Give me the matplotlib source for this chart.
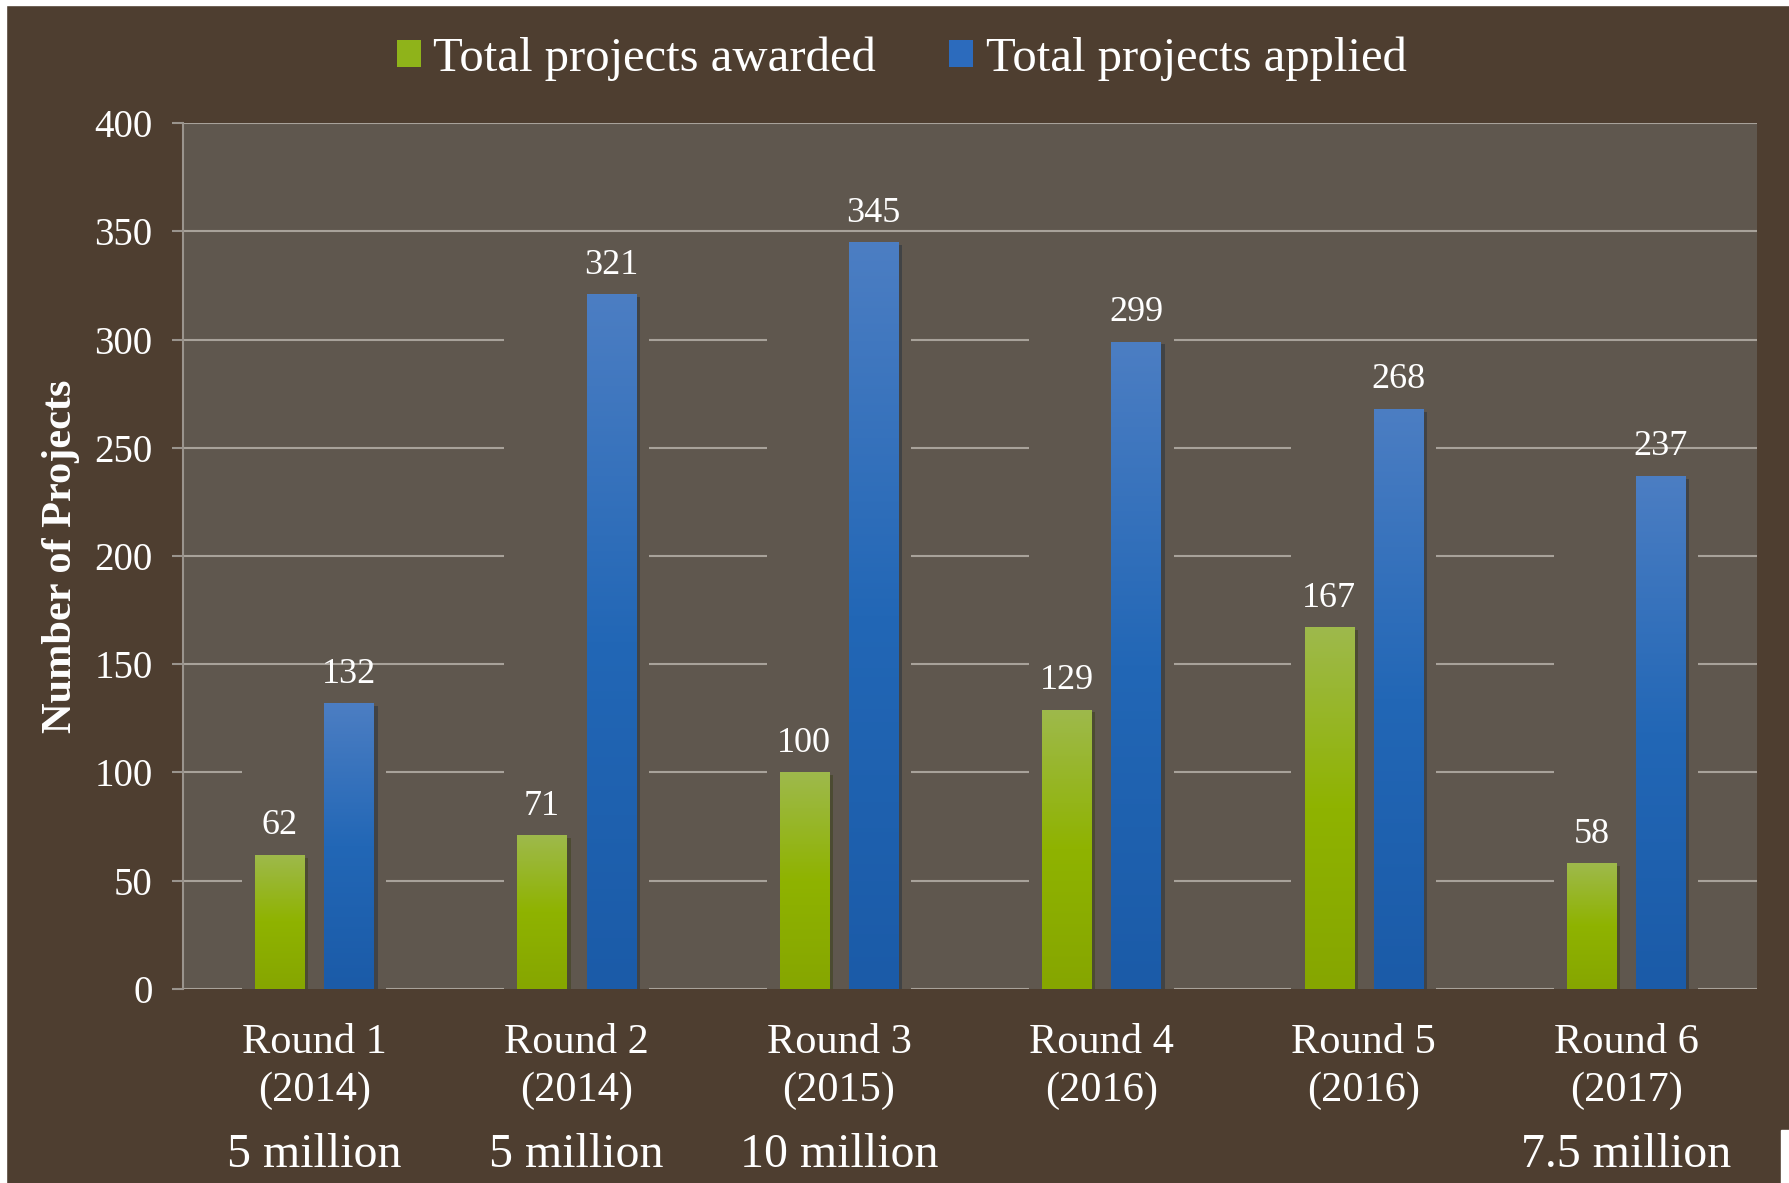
import numpy as np
import matplotlib
matplotlib.use("Agg")
import matplotlib.pyplot as plt
import matplotlib.patheffects as pe
from matplotlib.colors import LinearSegmentedColormap
from matplotlib.patches import Rectangle
from matplotlib.transforms import blended_transform_factory

# data
rounds = ["Round 1\n(2014)", "Round 2\n(2014)", "Round 3\n(2015)",
          "Round 4\n(2016)", "Round 5\n(2016)", "Round 6\n(2017)"]
budgets = ["5 million", "5 million", "10 million", "", "", "7.5 million"]
awarded = [62, 71, 100, 129, 167, 58]
applied = [132, 321, 345, 299, 268, 237]
series_names = ["Total projects awarded", "Total projects applied"]
yticks = [0, 50, 100, 150, 200, 250, 300, 350, 400]

BG = "#4e3e30"
PLOT_BG = "#5f574e"
GRID = "#a8a29a"

plt.rcParams['font.family'] = ['Liberation Serif', 'DejaVu Serif']

fig = plt.figure(figsize=(17.89, 11.83), dpi=100, facecolor=BG)
ax = fig.add_axes([0.1023, 0.164, 0.880, 0.732])
ax.set_facecolor(PLOT_BG)

# thin white strips at the edges of the original image
fig.patches.append(Rectangle((0, 0.9955), 1, 0.0045, transform=fig.transFigure, color="white", zorder=0))
fig.patches.append(Rectangle((0, 0), 0.0034, 1, transform=fig.transFigure, color="white", zorder=0))
fig.patches.append(Rectangle((0.9955, 0), 0.0045, 0.045, transform=fig.transFigure, color="white", zorder=0))

x = np.arange(len(rounds))
width = 0.187
off = 0.132

green_cmap = LinearSegmentedColormap.from_list("g", [(0, "#86a600"), (0.5, "#8fb300"), (1, "#9eb94c")])
blue_cmap = LinearSegmentedColormap.from_list("b", [(0, "#1b5ba8"), (0.5, "#2267b6"), (1, "#4c7ec3")])

# hide grid lines around each group (soft shadow look of the original)
for xi, a, b in zip(x, awarded, applied):
    ax.add_patch(Rectangle((xi - off - width / 2 - 0.05, 0), 2 * off + width + 0.1,
                           max(a, b) + 4, facecolor=PLOT_BG, edgecolor="none", zorder=1.5))

shadow = [pe.SimplePatchShadow(offset=(3, -2), alpha=0.35), pe.Normal()]
bars_g = ax.bar(x - off, awarded, width, color="#8fb300", zorder=2, path_effects=shadow)
bars_b = ax.bar(x + off, applied, width, color="#2267b6", zorder=2, path_effects=shadow)

grad = np.linspace(0, 1, 256).reshape(-1, 1)
for bars, cmap in [(bars_g, green_cmap), (bars_b, blue_cmap)]:
    for bar in bars:
        bx, by = bar.get_x(), bar.get_y()
        bw, bh = bar.get_width(), bar.get_height()
        im = ax.imshow(grad, cmap=cmap, origin="lower", aspect="auto",
                       extent=[bx, bx + bw, by, by + bh], zorder=2.5)
        im.set_clip_path(bar)
        ax.annotate(str(int(bh)), (bx + bw / 2, bh), xytext=(0, 9),
                    textcoords="offset points", ha="center", va="bottom",
                    fontsize=26, color="white")

ax.set_xlim(-0.5, len(rounds) - 0.5)
ax.set_ylim(0, 400)
ax.set_yticks(yticks)
ax.yaxis.grid(True, color=GRID, linewidth=1.5, zorder=1)
ax.set_axisbelow(True)

ax.set_xticks(x)
ax.set_xticklabels(rounds, fontsize=30.5, color="white", linespacing=1.33)
ax.tick_params(axis="x", length=0, pad=25)
ax.tick_params(axis="y", length=8, width=1.5, color="#9a948d", labelsize=28,
               labelcolor="white", pad=14)

for s in ["top", "right", "bottom"]:
    ax.spines[s].set_visible(False)
ax.spines["left"].set_color("#9a948d")
ax.spines["left"].set_linewidth(1.5)

ax.set_ylabel("Number of Projects", fontsize=30.5, fontweight="bold", color="white")
ax.yaxis.set_label_coords(-0.0654, 0.5)

trans = blended_transform_factory(ax.transData, ax.transAxes)
for xi, b in zip(x, budgets):
    if b:
        ax.text(xi, -0.192, b, transform=trans, ha="center", va="center",
                fontsize=34.5, color="white")

handles = [Rectangle((0, 0), 1, 1, facecolor="#8fb31a"),
           Rectangle((0, 0), 1, 1, facecolor="#2c6bbd")]
fig.legend(handles, series_names, loc="center", bbox_to_anchor=(0.504, 0.9505),
           ncol=2, frameon=False, fontsize=35, labelcolor="white",
           handlelength=0.5, handleheight=0.5, handletextpad=0.25,
           columnspacing=1.5)

fig.savefig("out.png", dpi=100, facecolor=BG)
